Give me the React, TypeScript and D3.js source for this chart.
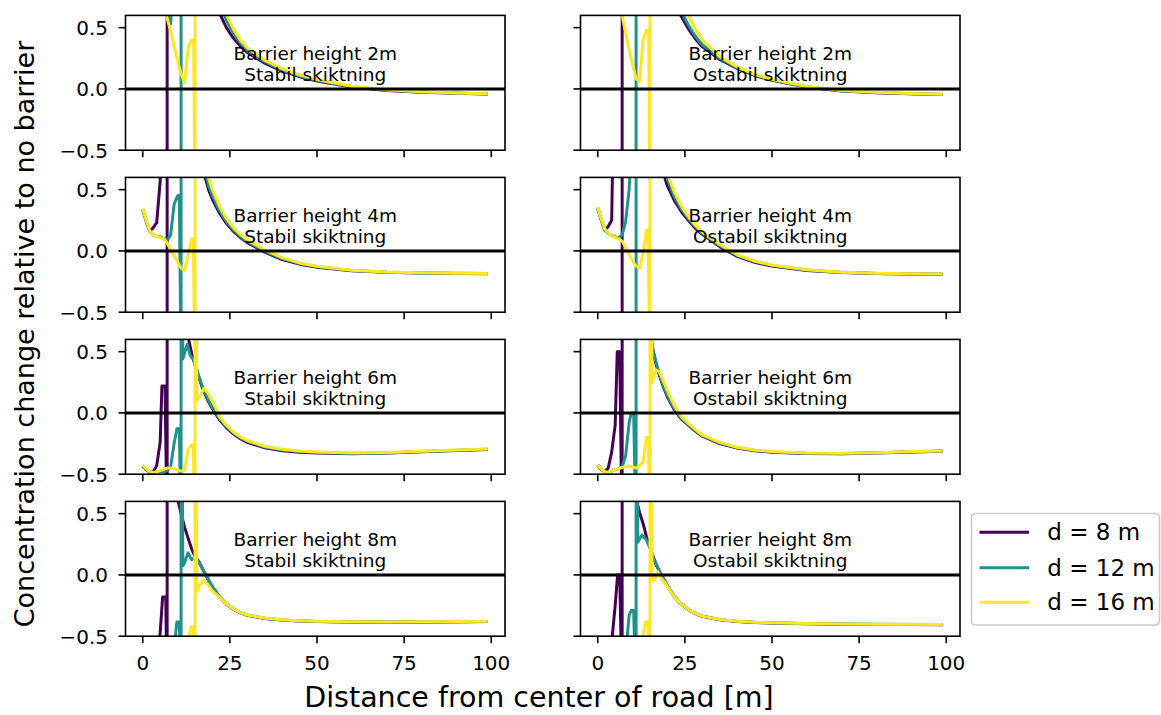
import React from "react";
import * as d3 from "d3";

type Pt = [number, number];

// ---------- axes / labels ----------
const X_TICKS = [0, 25, 50, 75, 100];
const Y_TICKS = [-0.5, 0, 0.5];
const X_DOMAIN: [number, number] = [-4.95, 103.95];
const Y_DOMAIN: [number, number] = [-0.5, 0.6];
const BARRIER_HEIGHTS = ["2m", "4m", "6m", "8m"];
const STRATIFICATION = ["Stabil skiktning", "Ostabil skiktning"];
const SERIES_LABELS = ["d = 8 m", "d = 12 m", "d = 16 m"];
const SERIES_COLORS = ["#440154", "#21918c", "#fde725"];
const X_LABEL = "Distance from center of road [m]";
const Y_LABEL = "Concentration change relative to no barrier";

// ---------- data: [distance m, relative change] ----------
// Barrier height 2 m
const h2s_d8: Pt[] = [[0,2.6],[2,2.8],[4,3.0],[7,3.5],[7,-1],[7,4.5],[8,4.2],[10,3.1],[12,2.2],[14,1.6],[16,1.2],[18,0.93],[20,0.76],[22,0.62],[24,0.5],[26,0.415],[28,0.35],[30,0.298],[35,0.21],[40,0.145],[45,0.1],[50,0.065],[60,0.015],[70,-0.012],[80,-0.027],[90,-0.036],[99,-0.042]];
const h2s_d12: Pt[] = [[0,2.2],[4,2.6],[7,1.0],[8,0.53],[9,1.0],[11,1.8],[11,-1],[11,4],[12,3.2],[14,2.0],[16,1.45],[18,1.1],[20,0.88],[22,0.7],[24,0.56],[26,0.455],[28,0.375],[30,0.315],[35,0.222],[40,0.153],[45,0.106],[50,0.07],[60,0.018],[70,-0.01],[80,-0.025],[90,-0.034],[99,-0.041]];
const h2s_d16: Pt[] = [[0,2.0],[2,1.9],[4,1.5],[5,1.1],[6,0.75],[7,0.58],[8,0.47],[9,0.35],[10,0.23],[11,0.12],[12,0.05],[13,0.33],[14,0.4],[14.6,0.4],[15,-1],[15,3],[16,2.2],[18,1.3],[20,0.95],[22,0.76],[24,0.61],[26,0.49],[28,0.4],[30,0.335],[35,0.235],[40,0.165],[45,0.115],[50,0.077],[60,0.022],[70,-0.007],[80,-0.024],[90,-0.033],[99,-0.04]];
const h2o_d8: Pt[] = [[0,2.6],[4,3.0],[7,3.5],[7,-1],[7,4.5],[8,4.5],[10,3.3],[12,2.4],[14,1.75],[16,1.3],[18,1.04],[20,0.86],[22,0.71],[24,0.59],[26,0.49],[28,0.41],[30,0.345],[35,0.24],[40,0.168],[45,0.11],[50,0.07],[60,0.015],[70,-0.016],[80,-0.031],[90,-0.04],[99,-0.046]];
const h2o_d12: Pt[] = [[0,2.2],[4,2.6],[7,2.6],[11,1.8],[11,-1],[11,4],[12,3.4],[14,2.2],[16,1.6],[18,1.2],[20,0.96],[22,0.77],[24,0.63],[26,0.52],[28,0.43],[30,0.36],[35,0.25],[40,0.173],[45,0.114],[50,0.073],[60,0.017],[70,-0.014],[80,-0.03],[90,-0.039],[99,-0.045]];
const h2o_d16: Pt[] = [[0,2.0],[2,1.9],[4,1.5],[5,1.1],[6,0.8],[7,0.6],[8,0.46],[9,0.32],[10,0.2],[11,0.085],[12,0.06],[13,0.4],[14,0.48],[14.6,0.48],[15,-1],[15,3],[16,2.6],[18,1.6],[20,1.1],[22,0.88],[24,0.73],[26,0.6],[28,0.49],[30,0.4],[35,0.265],[40,0.18],[45,0.12],[50,0.078],[60,0.02],[70,-0.012],[80,-0.028],[90,-0.038],[99,-0.044]];
// Barrier height 4 m
const h4s_d8: Pt[] = [[0,0.34],[1,0.245],[2,0.16],[3,0.19],[4,0.23],[5,0.57],[6,1.6],[7,1.6],[7,-1],[7,6],[8,5.5],[10,3.3],[12,2.0],[14,1.3],[15,1.05],[16,0.85],[17,0.71],[18,0.59],[19,0.49],[20,0.42],[22,0.31],[24,0.225],[26,0.16],[28,0.11],[30,0.068],[35,-0.01],[40,-0.07],[45,-0.108],[50,-0.133],[60,-0.162],[70,-0.175],[80,-0.181],[90,-0.184],[99,-0.186]];
const h4s_d12: Pt[] = [[0,0.335],[1,0.24],[2,0.16],[3,0.13],[4,0.12],[5,0.115],[6,0.1],[7,0.085],[8,0.13],[9,0.38],[10,0.45],[10.5,0.45],[11,-1],[11,4],[12,3.0],[13,2.2],[14,1.65],[15,1.25],[16,0.97],[17,0.77],[18,0.63],[19,0.525],[20,0.45],[22,0.33],[24,0.24],[26,0.172],[28,0.12],[30,0.077],[35,-0.003],[40,-0.063],[45,-0.103],[50,-0.129],[60,-0.159],[70,-0.173],[80,-0.18],[90,-0.183],[99,-0.185]];
const h4s_d16: Pt[] = [[0,0.345],[1,0.25],[2,0.165],[3,0.13],[4,0.12],[5,0.11],[6,0.1],[7,0.065],[8,0.01],[9,-0.04],[10,-0.09],[11,-0.14],[12,-0.16],[13,-0.04],[14,0.1],[14.5,0.1],[15,-1],[15,3],[16,1.3],[17,0.88],[18,0.7],[19,0.585],[20,0.5],[22,0.365],[24,0.265],[26,0.19],[28,0.135],[30,0.09],[35,0.008],[40,-0.055],[45,-0.098],[50,-0.125],[60,-0.157],[70,-0.172],[80,-0.179],[90,-0.182],[99,-0.184]];
const h4o_d8: Pt[] = [[0,0.35],[1,0.255],[2,0.17],[3,0.2],[4,0.25],[5,2.0],[7,3.0],[7,-1],[7,6],[8,5.6],[10,3.6],[12,2.3],[14,1.5],[15,1.22],[16,1.02],[17,0.86],[18,0.73],[19,0.62],[20,0.53],[22,0.41],[24,0.32],[26,0.25],[28,0.185],[30,0.135],[35,0.035],[40,-0.045],[45,-0.093],[50,-0.124],[60,-0.16],[70,-0.177],[80,-0.185],[90,-0.188],[99,-0.19]];
const h4o_d12: Pt[] = [[0,0.345],[1,0.25],[2,0.17],[3,0.145],[4,0.125],[5,0.115],[6,0.105],[7,0.13],[8,0.24],[9,0.5],[10,1.0],[11,1.2],[11,-1],[11,4],[12,3.2],[13,2.5],[14,1.95],[15,1.55],[16,1.25],[17,1.02],[18,0.84],[19,0.7],[20,0.585],[22,0.44],[24,0.34],[26,0.265],[28,0.2],[30,0.145],[35,0.045],[40,-0.037],[45,-0.086],[50,-0.118],[60,-0.156],[70,-0.175],[80,-0.184],[90,-0.188],[99,-0.19]];
const h4o_d16: Pt[] = [[0,0.36],[1,0.26],[2,0.18],[3,0.15],[4,0.12],[5,0.11],[6,0.1],[7,0.08],[8,0.03],[9,-0.03],[10,-0.08],[11,-0.125],[12,-0.14],[13,-0.02],[14,0.17],[14.4,0.17],[15,-1],[15,3],[16,1.5],[17,1.1],[18,0.88],[19,0.74],[20,0.63],[22,0.48],[24,0.365],[26,0.28],[28,0.21],[30,0.155],[35,0.052],[40,-0.031],[45,-0.082],[50,-0.115],[60,-0.154],[70,-0.174],[80,-0.183],[90,-0.187],[99,-0.189]];
// Barrier height 6 m
const h6s_d8: Pt[] = [[0,-0.43],[1,-0.46],[2,-0.485],[3,-0.48],[4,-0.43],[5,-0.24],[5.5,0.22],[6.4,0.22],[7,-1],[7,5],[8,4],[10,2.2],[12,1.0],[13,0.62],[14,0.49],[15,0.39],[16,0.3],[17,0.215],[18,0.145],[19,0.085],[20,0.035],[22,-0.055],[24,-0.12],[26,-0.17],[28,-0.21],[30,-0.24],[35,-0.285],[40,-0.308],[45,-0.32],[50,-0.327],[60,-0.333],[70,-0.328],[80,-0.317],[90,-0.306],[99,-0.298]];
const h6s_d12: Pt[] = [[0,-0.43],[1,-0.46],[2,-0.485],[3,-0.485],[4,-0.48],[5,-0.48],[6,-0.48],[7,-0.47],[8,-0.44],[9,-0.25],[9.8,-0.13],[10.5,-0.13],[11,-1],[11,3],[11.5,0.44],[12.2,0.51],[12.8,0.56],[13.6,0.47],[14.6,0.43],[15.5,0.36],[16,0.305],[17,0.225],[18,0.155],[19,0.095],[20,0.045],[22,-0.045],[24,-0.11],[26,-0.162],[28,-0.202],[30,-0.232],[35,-0.278],[40,-0.302],[45,-0.315],[50,-0.322],[60,-0.33],[70,-0.326],[80,-0.315],[90,-0.304],[99,-0.297]];
const h6s_d16: Pt[] = [[0,-0.425],[1,-0.455],[2,-0.48],[3,-0.485],[4,-0.48],[5,-0.47],[6,-0.46],[7,-0.45],[8,-0.45],[9,-0.455],[10,-0.465],[11,-0.475],[12,-0.47],[13,-0.3],[14,-0.26],[14.5,-0.26],[15,-1],[15,3],[15.5,0.1],[16.3,0.13],[17.5,0.2],[18.5,0.17],[19.5,0.12],[20.5,0.07],[22,-0.03],[24,-0.1],[26,-0.155],[28,-0.195],[30,-0.225],[35,-0.272],[40,-0.297],[45,-0.311],[50,-0.318],[60,-0.326],[70,-0.323],[80,-0.313],[90,-0.302],[99,-0.295]];
const h6o_d8: Pt[] = [[0,-0.425],[1,-0.46],[2,-0.48],[3,-0.45],[4,-0.32],[5,-0.1],[5.6,0.5],[6.3,0.5],[7,-1],[7,6],[8,6],[10,4],[12,2.4],[14,1.0],[15,0.64],[16,0.48],[17,0.37],[18,0.28],[19,0.2],[20,0.13],[22,0.025],[24,-0.05],[26,-0.1],[28,-0.148],[30,-0.19],[35,-0.25],[40,-0.287],[45,-0.308],[50,-0.32],[60,-0.332],[70,-0.333],[80,-0.327],[90,-0.318],[99,-0.313]];
const h6o_d12: Pt[] = [[0,-0.425],[1,-0.46],[2,-0.48],[3,-0.485],[4,-0.475],[5,-0.465],[6,-0.455],[7,-0.44],[8,-0.35],[9,-0.08],[9.6,0.0],[10.3,0.0],[11,-1],[11,4],[12,3.5],[13,2.2],[14,1.3],[15,0.68],[16,0.5],[17,0.385],[18,0.29],[19,0.21],[20,0.14],[22,0.035],[24,-0.045],[26,-0.095],[28,-0.142],[30,-0.186],[35,-0.245],[40,-0.283],[45,-0.305],[50,-0.318],[60,-0.33],[70,-0.331],[80,-0.325],[90,-0.316],[99,-0.311]];
const h6o_d16: Pt[] = [[0,-0.425],[1,-0.455],[2,-0.48],[3,-0.485],[4,-0.475],[5,-0.465],[6,-0.455],[7,-0.445],[8,-0.44],[9,-0.43],[10,-0.44],[11,-0.45],[12,-0.43],[13,-0.4],[14,-0.2],[14.5,-0.2],[15,-1],[15,3],[15.6,0.25],[16.8,0.35],[17.7,0.335],[19,0.25],[20,0.18],[22,0.06],[24,-0.03],[26,-0.085],[28,-0.135],[30,-0.18],[35,-0.24],[40,-0.28],[45,-0.302],[50,-0.315],[60,-0.328],[70,-0.33],[80,-0.324],[90,-0.315],[99,-0.31]];
// Barrier height 8 m
const h8s_d8: Pt[] = [[0,-0.9],[4,-0.75],[5,-0.47],[5.7,-0.18],[6.6,-0.18],[7,-1],[7,3],[8,2.0],[9,1.1],[10,0.62],[11,0.5],[12,0.39],[13,0.3],[14,0.215],[15,0.15],[16,0.115],[17,0.06],[18,0.005],[19,-0.05],[20,-0.1],[22,-0.18],[24,-0.24],[26,-0.28],[28,-0.31],[30,-0.33],[35,-0.355],[40,-0.368],[45,-0.376],[50,-0.381],[60,-0.385],[70,-0.386],[80,-0.385],[90,-0.383],[99,-0.381]];
const h8s_d12: Pt[] = [[0,-0.95],[8,-0.75],[9,-0.6],[9.8,-0.385],[10.5,-0.385],[11,-1],[11,3],[11.5,0.076],[12,0.1],[13,0.18],[14,0.125],[15,0.14],[16,0.11],[17,0.058],[18,0.003],[19,-0.048],[20,-0.097],[22,-0.176],[24,-0.236],[26,-0.277],[28,-0.307],[30,-0.327],[35,-0.353],[40,-0.367],[45,-0.375],[50,-0.38],[60,-0.384],[70,-0.385],[80,-0.384],[90,-0.382],[99,-0.38]];
const h8s_d16: Pt[] = [[0,-0.95],[12,-0.75],[13,-0.55],[13.8,-0.425],[14.5,-0.425],[15,-1],[15,3],[15.5,-0.14],[16.3,-0.087],[17.5,-0.045],[18.5,-0.07],[19.5,-0.11],[20,-0.13],[22,-0.182],[24,-0.238],[26,-0.278],[28,-0.307],[30,-0.327],[35,-0.352],[40,-0.366],[45,-0.374],[50,-0.379],[60,-0.383],[70,-0.384],[80,-0.383],[90,-0.381],[99,-0.379]];
const h8o_d8: Pt[] = [[0,-0.9],[4,-0.55],[5,-0.25],[5.7,0.0],[6.3,0.0],[7,-1],[7,3],[8,2.5],[9,1.4],[10,0.9],[11,0.62],[12,0.51],[13,0.42],[14,0.31],[15,0.22],[16,0.14],[17,0.07],[18,0.01],[19,-0.04],[20,-0.09],[22,-0.18],[24,-0.24],[26,-0.282],[28,-0.315],[30,-0.338],[35,-0.365],[40,-0.38],[45,-0.388],[50,-0.393],[60,-0.398],[70,-0.402],[80,-0.404],[90,-0.405],[99,-0.406]];
const h8o_d12: Pt[] = [[0,-0.95],[7,-0.75],[8,-0.65],[9,-0.33],[9.6,-0.29],[10.3,-0.29],[11,-1],[11,3],[11.5,0.266],[12.7,0.325],[13.9,0.29],[15,0.22],[16,0.14],[17,0.073],[18,0.013],[19,-0.037],[20,-0.087],[22,-0.177],[24,-0.237],[26,-0.28],[28,-0.313],[30,-0.336],[35,-0.364],[40,-0.379],[45,-0.387],[50,-0.392],[60,-0.397],[70,-0.401],[80,-0.403],[90,-0.404],[99,-0.405]];
const h8o_d16: Pt[] = [[0,-0.95],[11,-0.75],[12,-0.62],[13,-0.48],[13.7,-0.385],[14.4,-0.385],[15,-1],[15,3],[15.6,-0.046],[16.2,-0.046],[17.2,0.027],[18.5,-0.04],[19.5,-0.07],[20,-0.095],[22,-0.18],[24,-0.238],[26,-0.28],[28,-0.313],[30,-0.336],[35,-0.363],[40,-0.378],[45,-0.386],[50,-0.391],[60,-0.396],[70,-0.4],[80,-0.402],[90,-0.403],[99,-0.404]];

const PANELS: Pt[][][][] = [
  [[h2s_d8, h2s_d12, h2s_d16], [h2o_d8, h2o_d12, h2o_d16]],
  [[h4s_d8, h4s_d12, h4s_d16], [h4o_d8, h4o_d12, h4o_d16]],
  [[h6s_d8, h6s_d12, h6s_d16], [h6o_d8, h6o_d12, h6o_d16]],
  [[h8s_d8, h8s_d12, h8s_d16], [h8o_d8, h8o_d12, h8o_d16]],
];

// ---------- layout ----------
const W = 1161;
const H = 715;
const COLS = [
  { x0: 125.5, x1: 505 },
  { x0: 580.5, x1: 960 },
];
const ROW_TOP0 = 15.4;
const ROW_STEP = 162;
const ROW_H = 134.8;
const FONT = "DejaVu Sans, Liberation Sans, sans-serif";

function Panel({ r, c }: { r: number; c: number }) {
  const { x0, x1 } = COLS[c];
  const top = ROW_TOP0 + r * ROW_STEP;
  const bottom = top + ROW_H;
  const xs = d3.scaleLinear().domain(X_DOMAIN).range([x0, x1]);
  const ys = d3.scaleLinear().domain(Y_DOMAIN).range([bottom, top]);
  const line = d3
    .line<Pt>()
    .x((d) => xs(d[0]))
    .y((d) => ys(d[1]));
  const clipId = `clip-${r}-${c}`;
  const cx = (x0 + x1) / 2;
  return (
    <g>
      <defs>
        <clipPath id={clipId}>
          <rect x={x0} y={top} width={x1 - x0} height={ROW_H} />
        </clipPath>
      </defs>
      <g clipPath={`url(#${clipId})`}>
        {PANELS[r][c].map((s, i) => (
          <path
            key={i}
            d={line(s) || ""}
            fill="none"
            stroke={SERIES_COLORS[i]}
            strokeWidth={3}
            strokeLinejoin="round"
            strokeLinecap="butt"
          />
        ))}
        <line x1={x0} x2={x1} y1={ys(0)} y2={ys(0)} stroke="#000" strokeWidth={3} />
      </g>
      <text
        x={cx}
        y={top + 44.5}
        textAnchor="middle"
        fontSize={18.5}
        fontFamily={FONT}
        fill="#000"
      >
        {`Barrier height ${BARRIER_HEIGHTS[r]}`}
      </text>
      <text
        x={cx}
        y={top + 66}
        textAnchor="middle"
        fontSize={18.5}
        fontFamily={FONT}
        fill="#000"
      >
        {STRATIFICATION[c]}
      </text>
      <rect
        x={x0}
        y={top}
        width={x1 - x0}
        height={ROW_H}
        fill="none"
        stroke="#000"
        strokeWidth={1.6}
      />
      {X_TICKS.map((t) => (
        <g key={`xt${t}`}>
          <line x1={xs(t)} x2={xs(t)} y1={bottom} y2={bottom + 7} stroke="#000" strokeWidth={1.6} />
          {r === 3 && (
            <text
              x={xs(t)}
              y={bottom + 34}
              textAnchor="middle"
              fontSize={20}
              fontFamily={FONT}
              fill="#000"
            >
              {d3.format("d")(t)}
            </text>
          )}
        </g>
      ))}
      {Y_TICKS.map((t) => (
        <g key={`yt${t}`}>
          <line x1={x0 - 7} x2={x0} y1={ys(t)} y2={ys(t)} stroke="#000" strokeWidth={1.6} />
          {c === 0 && (
            <text
              x={x0 - 17.5}
              y={ys(t) + 7.3}
              textAnchor="end"
              fontSize={20}
              fontFamily={FONT}
              fill="#000"
            >
              {d3.format(".1f")(t).replace("-", "\u2212")}
            </text>
          )}
        </g>
      ))}
    </g>
  );
}

function Legend() {
  const lx = 971.5;
  const ly = 513.5;
  const rowY = [532.3, 567.7, 602.3];
  return (
    <g>
      <rect
        x={lx}
        y={ly}
        width={188}
        height={111.5}
        rx={4}
        ry={4}
        fill="#fff"
        fillOpacity={0.8}
        stroke="#cccccc"
        strokeWidth={1.6}
      />
      {SERIES_LABELS.map((lab, i) => (
        <g key={lab}>
          <line x1={979.5} x2={1029} y1={rowY[i]} y2={rowY[i]} stroke={SERIES_COLORS[i]} strokeWidth={3} />
          <text x={1047.3} y={rowY[i] + 8} fontSize={23} fontFamily={FONT} fill="#000">
            {lab}
          </text>
        </g>
      ))}
    </g>
  );
}

export default function App() {
  const cells: JSX.Element[] = [];
  for (let r = 0; r < 4; r++) {
    for (let c = 0; c < 2; c++) {
      cells.push(<Panel key={`${r}-${c}`} r={r} c={c} />);
    }
  }
  return (
    <svg
      width={W}
      height={H}
      viewBox={`0 0 ${W} ${H}`}
      style={{ position: "absolute", left: 0, top: 0, background: "#fff" }}
    >
      <rect x={0} y={0} width={W} height={H} fill="#fff" />
      {cells}
      <Legend />
      <text
        x={539}
        y={707}
        textAnchor="middle"
        fontSize={28.5}
        fontFamily={FONT}
        fill="#000"
      >
        {X_LABEL}
      </text>
      <text
        transform="translate(33.5,334) rotate(-90)"
        textAnchor="middle"
        fontSize={27}
        fontFamily={FONT}
        fill="#000"
      >
        {Y_LABEL}
      </text>
    </svg>
  );
}
